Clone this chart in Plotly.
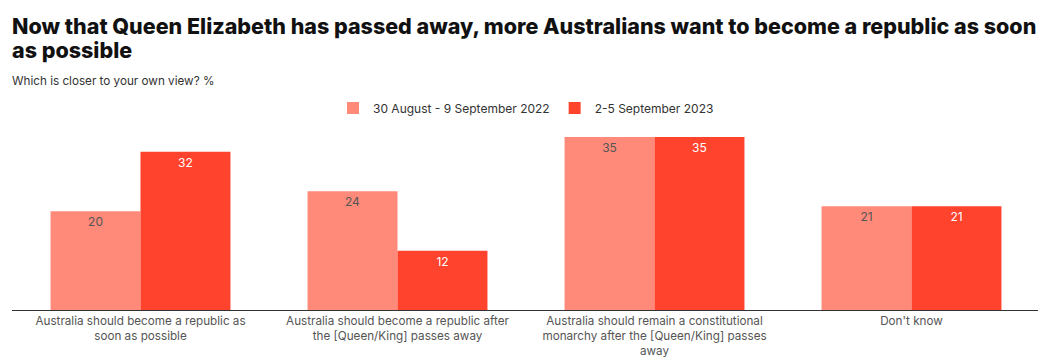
import plotly.graph_objects as go

title_lines = [
    "Now that Queen Elizabeth has passed away, more Australians want to become a republic as soon",
    "as possible",
]
subtitle = "Which is closer to your own view? %"
categories = [
    "Australia should become a republic as<br>soon as possible",
    "Australia should become a republic after<br>the [Queen/King] passes away",
    "Australia should remain a constitutional<br>monarchy after the [Queen/King] passes<br>away",
    "Don't know",
]
series_names = ["30 August - 9 September 2022", "2-5 September 2023"]
values_2022 = [20, 24, 35, 21]
values_2023 = [32, 12, 35, 21]

colors = ["#ff8a7a", "#ff432d"]
text_colors = ["#555555", "#ffffff"]

# page body adds an 8px offset; margins compensate
PLOT_TOP = 129  # figure px
fig = go.Figure()
for name, vals, col, tcol in zip(series_names, [values_2022, values_2023], colors, text_colors):
    fig.add_trace(go.Bar(
        x=categories, y=vals, name=name,
        marker=dict(color=col, line=dict(width=0)),
        text=[str(v) for v in vals], textposition="inside", insidetextanchor="end",
        textfont=dict(family="Inter", size=12, color=tcol),
        textangle=0,
    ))

fig.update_layout(
    width=1046, height=361,
    margin=dict(l=4, r=14, t=PLOT_TOP, b=59),
    paper_bgcolor="white", plot_bgcolor="white",
    barmode="group", bargap=0.3, bargroupgap=0,
    showlegend=True,
    legend=dict(orientation="h", x=0.5, xanchor="center", y=1 + (PLOT_TOP - 100) / 173,
                yanchor="middle", font=dict(family="Inter", size=12, color="#333333"),
                traceorder="normal", itemwidth=30),
    xaxis=dict(showgrid=False, showline=True, linecolor="#333333", linewidth=1,
               tickfont=dict(family="Inter", size=11.7, color="#555555"), ticks=""),
    yaxis=dict(range=[0, 35], visible=False),
)
for line, center in zip(title_lines, [18, 42]):
    fig.add_annotation(text=line, xref="paper", yref="paper", x=0, y=1,
                       xanchor="left", yanchor="middle", yshift=PLOT_TOP - center, xshift=-2,
                       showarrow=False, align="left",
                       font=dict(family="Inter", size=21.5, weight=800, color="#111111"))
fig.add_annotation(text=subtitle, xref="paper", yref="paper",
                   x=0, y=1, xanchor="left", yanchor="middle", yshift=PLOT_TOP - 73, xshift=-2,
                   showarrow=False,
                   font=dict(family="Inter", size=11.7, color="#333333"))

fig.write_html("out.html")
